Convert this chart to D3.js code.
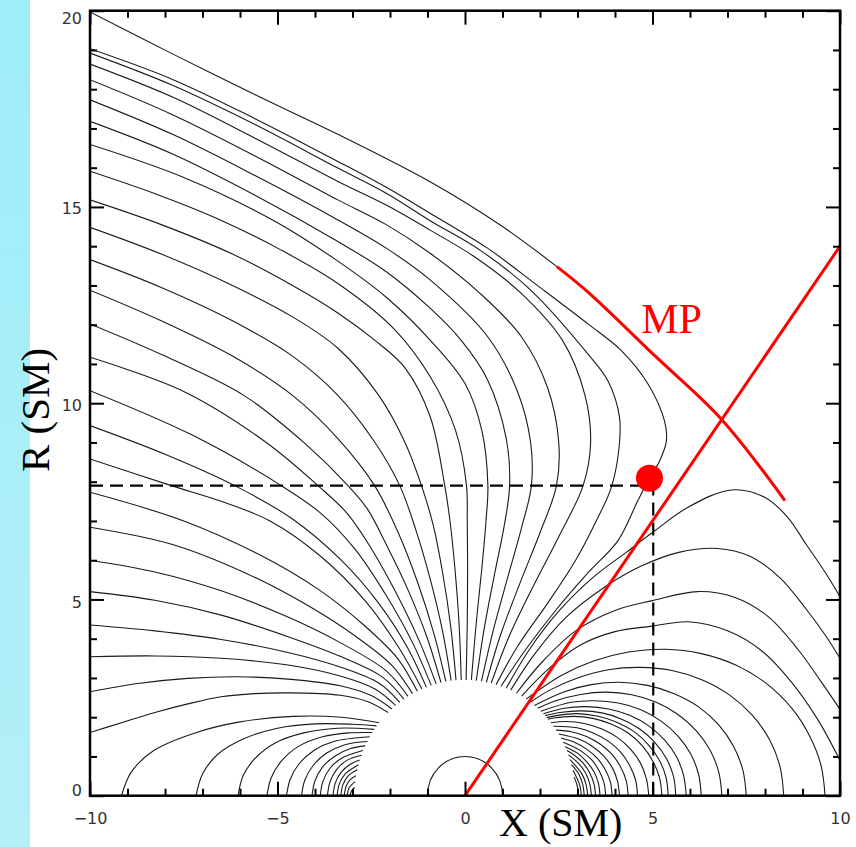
<!DOCTYPE html>
<html>
<head>
<meta charset="utf-8">
<script src="https://cdn.jsdelivr.net/npm/d3@7"></script>
<style>
  body { margin: 0; background: #fff; }
  svg { display: block; }
</style>
</head>
<body>
<div id="chart"></div>
<script>
// ---- axis ticks ----
const xMajorTicks = [-10, -5, 0, 5, 10];
const xMinorTicks = [-9, -8, -7, -6, -4, -3, -2, -1, 1, 2, 3, 4, 6, 7, 8, 9];
const yMajorTicks = [0, 5, 10, 15, 20];
const yMinorTicks = [1, 2, 3, 4, 6, 7, 8, 9, 11, 12, 13, 14, 16, 17, 18, 19];

// ---- field lines, [X, R] in SM ----
// closed lines on the night side (cross R=0 at X<0)
const nightClosedLines = [
  [[-9.16,0],[-8.9,0.6],[-8.3,1.15],[-7.2,1.6],[-6.0,1.88],[-4.6,2.02],[-3.3,2.0],[-2.29,1.86]],
  [[-7.17,0],[-7.0,0.55],[-6.6,1.05],[-5.9,1.45],[-5.0,1.72],[-4.0,1.83],[-3.0,1.82],[-2.36,1.78]],
  [[-6.05,0],[-5.92,0.5],[-5.6,0.95],[-5.05,1.35],[-4.3,1.6],[-3.4,1.72],[-2.42,1.69]],
  [[-5.28,0],[-5.17,0.45],[-4.9,0.88],[-4.45,1.25],[-3.8,1.5],[-3.1,1.6],[-2.47,1.61]],
  [[-4.76,0],[-4.66,0.42],[-4.42,0.82],[-4.02,1.16],[-3.5,1.38],[-2.54,1.5]],
  [[-4.36,0],[-4.27,0.4],[-4.05,0.77],[-3.7,1.08],[-3.2,1.3],[-2.6,1.38]],
  [[-4.08,0],[-4.0,0.38],[-3.8,0.73],[-3.45,1.02],[-3.05,1.2],[-2.66,1.27]],
  [[-3.86,0],[-3.79,0.36],[-3.6,0.7],[-3.3,0.95],[-2.72,1.15]],
  [[-3.67,0],[-3.6,0.35],[-3.43,0.66],[-3.15,0.9],[-2.76,1.03]],
  [[-3.52,0],[-3.46,0.32],[-3.3,0.6],[-3.06,0.8],[-2.81,0.91]],
  [[-3.41,0],[-3.35,0.3],[-3.2,0.55],[-2.84,0.79]],
  [[-3.31,0],[-3.26,0.27],[-3.12,0.5],[-2.87,0.66]],
  [[-3.22,0],[-3.17,0.24],[-3.06,0.41],[-2.91,0.51]],
  [[-3.14,0],[-3.09,0.2],[-2.93,0.36]],
  [[-3.07,0],[-3.02,0.13],[-2.94,0.21]]
];

// open lines stretched into the tail (leave through X=-10)
const openLines = [
  [[-2.05,2.12],[-2.6,2.4],[-3.33,2.56],[-4.72,2.62],[-5.61,2.6],[-6.5,2.52],[-7.39,2.34],[-8.27,2.12],[-9.16,1.86],[-10,1.61]],
  [[-1.95,2.21],[-2.5,2.55],[-3.33,2.8],[-4.72,2.97],[-6.05,3.03],[-7.39,2.99],[-8.72,2.86],[-10,2.65]],
  [[-1.85,2.3],[-2.4,2.72],[-3.33,3.05],[-4.72,3.33],[-6.5,3.5],[-8.27,3.56],[-10,3.54]],
  [[-1.74,2.38],[-2.3,2.87],[-3.33,3.28],[-4.72,3.65],[-6.5,3.98],[-8.27,4.2],[-10,4.35]],
  [[-1.63,2.46],[-2.2,3.02],[-3.33,3.55],[-4.72,4.05],[-6.5,4.6],[-8.27,4.98],[-10,5.2]],
  [[-1.52,2.53],[-2.1,3.18],[-3.33,3.9],[-4.72,4.55],[-6.5,5.22],[-8.27,5.7],[-10,6.0]],
  [[-1.4,2.6],[-1.95,3.32],[-2.9,4.05],[-4.2,4.85],[-5.8,5.65],[-7.8,6.4],[-10,6.84]],
  [[-1.27,2.66],[-1.8,3.5],[-2.7,4.35],[-3.9,5.25],[-5.4,6.1],[-7.5,7.0],[-10,7.73]],
  [[-1.15,2.72],[-1.75,3.75],[-2.65,4.95],[-3.85,6.1],[-5.2,7.0],[-6.5,7.5],[-7.83,7.9],[-10,8.58]],
  [[-1.03,2.76],[-1.55,3.8],[-2.3,4.9],[-3.3,6.0],[-4.6,7.05],[-6.14,7.9],[-8.0,8.7],[-10,9.43]],
  [[-0.9,2.81],[-1.4,3.9],[-2.1,5.1],[-2.95,6.3],[-3.85,7.2],[-4.9,7.9],[-7.3,9.2],[-10,10.32]],
  [[-0.77,2.85],[-1.2,3.9],[-1.8,5.1],[-2.5,6.3],[-3.15,7.2],[-3.92,7.9],[-5.3,9.0],[-7.5,10.3],[-10,11.17]],
  [[-0.64,2.88],[-1.0,4.0],[-1.5,5.2],[-2.1,6.4],[-2.6,7.3],[-3.12,7.9],[-4.3,9.0],[-5.9,10.2],[-8.0,11.2],[-10,12.02]],
  [[-0.51,2.91],[-0.82,4.1],[-1.25,5.4],[-1.78,6.7],[-2.41,7.9],[-3.39,9.1],[-4.6,10.2],[-6.2,11.2],[-8.1,12.1],[-10,12.88]],
  [[-0.37,2.93],[-0.6,4.2],[-0.95,5.6],[-1.32,6.8],[-1.74,7.9],[-2.4,9.0],[-3.39,10.2],[-4.6,11.2],[-6.2,12.1],[-8.1,12.95],[-10,13.66]],
  [[-0.24,2.94],[-0.38,4.3],[-0.6,5.7],[-0.85,6.9],[-1.16,7.9],[-1.6,9.0],[-2.3,10.2],[-3.39,11.4],[-4.6,12.2],[-6.2,13.0],[-8.1,13.8],[-10,14.48]],
  [[-0.1,2.95],[-0.16,4.4],[-0.27,5.8],[-0.4,7.0],[-0.54,7.9],[-0.93,9.66],[-1.6,10.9],[-2.4,11.6],[-3.39,12.3],[-4.6,13.0],[-6.2,13.8],[-8.1,14.55],[-10,15.18]],
  [[0.03,2.95],[0.06,4.4],[0.07,5.9],[0.06,7.0],[0.04,7.9],[-0.25,9.3],[-0.93,10.68],[-1.9,11.9],[-3.39,13.05],[-4.9,13.9],[-6.6,14.7],[-8.3,15.35],[-10,15.91]],
  [[0.17,2.95],[0.3,4.4],[0.45,5.8],[0.56,7.0],[0.61,7.9],[0.45,9.3],[0,10.5],[-0.93,11.61],[-2.1,12.7],[-3.39,13.62],[-5.0,14.6],[-7.5,15.75],[-10,16.59]],
  [[0.3,2.93],[0.52,4.3],[0.8,5.7],[1.05,6.9],[1.19,7.9],[1.1,9.1],[0.6,10.6],[-0.1,11.6],[-0.93,12.42],[-2.1,13.35],[-3.39,14.12],[-5.6,15.3],[-7.8,16.35],[-10,17.18]],
  [[0.44,2.92],[0.75,4.2],[1.15,5.6],[1.5,6.8],[1.77,7.9],[1.75,9.0],[1.4,10.3],[0.6,11.7],[-0.93,13.14],[-2.1,13.95],[-3.39,14.67],[-5.6,15.8],[-7.8,16.85],[-10,17.73]],
  [[0.57,2.89],[0.95,4.1],[1.5,5.5],[2.0,6.7],[2.44,7.9],[2.5,9.0],[2.2,10.4],[1.5,11.7],[0.4,12.8],[-0.93,13.82],[-2.1,14.55],[-3.39,15.18],[-5.6,16.3],[-7.8,17.35],[-10,18.24]],
  [[0.7,2.87],[1.15,4.0],[1.8,5.3],[2.5,6.6],[3.15,7.9],[3.35,9.0],[3.2,10.2],[2.6,11.6],[1.5,12.8],[0.3,13.7],[-0.93,14.41],[-2.1,15.05],[-3.39,15.65],[-5.6,16.75],[-7.8,17.8],[-10,18.64]],
  [[0.83,2.83],[1.4,3.8],[2.2,4.9],[2.95,6.0],[3.5,7.0],[3.9,7.85],[4.1,8.8],[4.12,9.64],[3.81,10.57],[3.28,11.25],[1.73,12.9],[0.4,13.9],[-0.93,14.65],[-2.1,15.35],[-3.39,15.99],[-5.6,17.1],[-7.8,18.1],[-10,18.92]],
  [[0.96,2.79],[1.6,3.7],[2.4,4.7],[3.3,5.7],[4.08,6.5],[4.61,7.52],[4.93,8.11],[5.19,8.53],[5.37,9.04],[5.32,9.55],[4.88,10.49],[4.17,11.34],[3.28,12.02],[2.0,12.95],[0.6,13.95],[-0.93,14.84],[-2.1,15.5],[-3.39,16.16],[-5.6,17.25],[-7.8,18.25],[-10,19.03]],
  [[-10,19.97],[-7.8,18.9],[-5.47,17.8],[-3.39,16.85],[-0.93,15.64],[1.0,14.5],[2.45,13.48]]
];

// closed lines on the day side
const dayClosedLines = [
  [[1.1,2.74],[1.7,3.7],[2.5,4.7],[3.4,5.55],[4.3,6.2],[5.06,6.75],[5.95,7.35],[7.1,7.79],[8.0,7.6],[8.6,7.1],[9.1,6.4],[9.6,5.7],[10,5.07]],
  [[1.22,2.69],[1.85,3.6],[2.7,4.55],[3.7,5.3],[4.7,5.85],[5.7,6.2],[6.73,6.3],[7.6,6.1],[8.4,5.55],[9.1,4.75],[9.6,4.1],[10,3.5]],
  [[1.37,2.61],[2.05,3.4],[2.95,4.2],[4.0,4.72],[5.0,4.97],[6.2,5.2],[7.2,5.05],[8.1,4.55],[8.9,3.7],[9.5,2.9],[10,2.2]],
  [[1.51,2.54],[2.25,3.25],[3.1,3.85],[4.0,4.18],[5.0,4.32],[5.95,4.43],[7.0,4.2],[7.9,3.7],[8.7,2.9],[9.4,1.95],[10,0.9]],
  [[1.63,2.46],[2.58,3.07],[3.43,3.43],[4.36,3.66],[5.33,3.73],[6.3,3.62],[7.22,3.33],[8.05,2.85],[8.74,2.2],[9.2,1.5],[9.5,0.75],[9.6,0]],
  [[1.74,2.38],[2.26,2.69],[3.0,3.0],[3.82,3.21],[4.67,3.27],[5.52,3.19],[6.33,2.95],[7.05,2.57],[7.66,2.05],[8.12,1.43],[8.4,0.74],[8.5,0]],
  [[1.85,2.3],[2.65,2.65],[3.37,2.83],[4.12,2.89],[4.87,2.81],[5.58,2.6],[6.22,2.27],[6.76,1.81],[7.16,1.26],[7.41,0.65],[7.5,0]],
  [[1.94,2.23],[2.42,2.42],[3.08,2.58],[3.77,2.64],[4.45,2.57],[5.1,2.38],[5.68,2.07],[6.17,1.65],[6.54,1.15],[6.77,0.59],[6.85,0]],
  [[2.02,2.15],[2.83,2.38],[3.46,2.42],[4.09,2.36],[4.69,2.19],[5.23,1.9],[5.68,1.52],[6.02,1.06],[6.23,0.54],[6.3,0]],
  [[2.09,2.09],[2.65,2.23],[3.24,2.27],[3.83,2.21],[4.39,2.05],[4.9,1.78],[5.32,1.42],[5.64,0.99],[5.83,0.51],[5.9,0]],
  [[2.14,2.04],[2.53,2.12],[3.09,2.16],[3.65,2.11],[4.18,1.95],[4.66,1.7],[5.06,1.36],[5.37,0.95],[5.56,0.49],[5.62,0]],
  [[2.18,1.99],[2.44,2.04],[2.98,2.09],[3.52,2.03],[4.03,1.88],[4.5,1.64],[4.88,1.31],[5.18,0.91],[5.36,0.47],[5.42,0]],
  [[2.21,1.95],[2.36,1.98],[2.89,2.02],[3.41,1.97],[3.91,1.82],[4.36,1.59],[4.73,1.27],[5.01,0.88],[5.19,0.45],[5.25,0]],
  [[2.29,1.86],[2.69,1.89],[3.18,1.84],[3.65,1.7],[4.07,1.48],[4.42,1.18],[4.68,0.83],[4.84,0.42],[4.9,0]],
  [[2.36,1.77],[2.99,1.73],[3.42,1.6],[3.82,1.39],[4.15,1.11],[4.39,0.77],[4.55,0.4],[4.6,0]],
  [[2.43,1.67],[2.83,1.63],[3.24,1.51],[3.61,1.31],[3.92,1.05],[4.15,0.73],[4.3,0.38],[4.35,0]],
  [[2.5,1.57],[3.07,1.43],[3.42,1.24],[3.71,1.0],[3.94,0.69],[4.07,0.36],[4.12,0]],
  [[2.56,1.47],[2.92,1.36],[3.25,1.18],[3.53,0.95],[3.74,0.66],[3.88,0.34],[3.92,0]],
  [[2.62,1.36],[3.11,1.13],[3.38,0.91],[3.58,0.63],[3.71,0.32],[3.75,0]],
  [[2.67,1.25],[2.99,1.09],[3.24,0.87],[3.44,0.61],[3.56,0.31],[3.6,0]],
  [[2.72,1.15],[2.89,1.05],[3.14,0.84],[3.32,0.59],[3.44,0.3],[3.48,0]],
  [[2.76,1.04],[3.04,0.81],[3.22,0.57],[3.33,0.29],[3.37,0]],
  [[2.8,0.92],[3.12,0.55],[3.23,0.28],[3.27,0]],
  [[2.84,0.79],[3.04,0.54],[3.14,0.28],[3.18,0]],
  [[2.88,0.65],[3.06,0.27],[3.1,0]],
  [[2.91,0.48],[2.99,0.26],[3.03,0]]
];

// red overlays
const mpLine = [[2.45,13.48],[3.28,12.83],[5.06,11.21],[6.83,9.6],[8.53,7.52]];
const sunLine = [[0,0],[10,14]];
const mpLabel = {x: 4.7, r: 11.8, text: "MP"};
const spacecraft = [4.92, 8.09];
const projection = [[-10,7.9],[5.02,7.9],[5.02,0]];
const earthRadius = 1;

// ---- layout ----
const W = 856, H = 847;
const svg = d3.select("#chart").append("svg").attr("width", W).attr("height", H);

const x = d3.scaleLinear().domain([-10, 10]).range([90, 840]);
const y = d3.scaleLinear().domain([0, 20]).range([795.7, 10.7]);

// blue strip on the left
const grad = svg.append("defs").append("linearGradient")
  .attr("id", "strip").attr("x1", 0).attr("y1", 0).attr("x2", 0).attr("y2", 1);
grad.append("stop").attr("offset", "0%").attr("stop-color", "#9eedf9");
grad.append("stop").attr("offset", "100%").attr("stop-color", "#b4eff8");
svg.append("rect").attr("x", 0).attr("y", 0).attr("width", 30).attr("height", H).attr("fill", "url(#strip)");

svg.select("defs").append("clipPath").attr("id", "plot")
  .append("rect").attr("x", x(-10)).attr("y", y(20))
  .attr("width", x(10) - x(-10)).attr("height", y(0) - y(20));

const plot = svg.append("g").attr("clip-path", "url(#plot)");

const curved = d3.line().x(d => x(d[0])).y(d => y(d[1])).curve(d3.curveCatmullRom.alpha(0.5));
const straight = d3.line().x(d => x(d[0])).y(d => y(d[1]));

// field lines
plot.selectAll("path.field")
  .data([...nightClosedLines, ...openLines, ...dayClosedLines])
  .join("path")
  .attr("class", "field")
  .attr("d", curved)
  .attr("fill", "none")
  .attr("stroke", "#1a1a1a")
  .attr("stroke-width", 1.1);

// earth
plot.append("ellipse")
  .attr("cx", x(0)).attr("cy", y(0))
  .attr("rx", x(earthRadius) - x(0)).attr("ry", y(0) - y(earthRadius))
  .attr("fill", "none").attr("stroke", "#1a1a1a").attr("stroke-width", 1.1);

// dashed projection of the spacecraft
plot.append("path")
  .attr("d", straight(projection))
  .attr("fill", "none").attr("stroke", "#000")
  .attr("stroke-width", 2.2).attr("stroke-dasharray", "13,7");

// red line from the origin
plot.append("path")
  .attr("d", straight(sunLine))
  .attr("fill", "none").attr("stroke", "#ff0000").attr("stroke-width", 3);

// magnetopause
plot.append("path")
  .attr("d", curved(mpLine))
  .attr("fill", "none").attr("stroke", "#ff0000").attr("stroke-width", 3);

plot.append("circle")
  .attr("cx", x(spacecraft[0])).attr("cy", y(spacecraft[1]))
  .attr("r", 13.5).attr("fill", "#ff0000");

svg.append("text")
  .attr("x", x(mpLabel.x)).attr("y", y(mpLabel.r))
  .attr("font-family", "Liberation Serif, Times New Roman, serif")
  .attr("font-size", 42).attr("fill", "#ff0000")
  .text(mpLabel.text);

// ---- axes ----
function styleAxis(g) {
  g.select(".domain").remove();
  g.selectAll(".tick line").attr("stroke", "#000").attr("stroke-width", 2);
  g.attr("font-family", "DejaVu Sans, sans-serif").attr("font-size", 16);
  g.selectAll("text").attr("fill", "#333");
}

const minus = d => (d < 0 ? "\u2212" + Math.abs(d) : String(d));

svg.append("g").attr("transform", `translate(0,${y(0)})`)
  .call(d3.axisBottom(x).tickValues(xMajorTicks).tickSizeInner(-14).tickSizeOuter(0).tickPadding(17).tickFormat(minus))
  .call(styleAxis);
svg.append("g").attr("transform", `translate(0,${y(0)})`)
  .call(d3.axisBottom(x).tickValues(xMinorTicks).tickSizeInner(-7).tickSizeOuter(0).tickFormat(""))
  .call(styleAxis);
svg.append("g").attr("transform", `translate(0,${y(20)})`)
  .call(d3.axisTop(x).tickValues(xMajorTicks).tickSizeInner(-14).tickSizeOuter(0).tickFormat(""))
  .call(styleAxis);
svg.append("g").attr("transform", `translate(0,${y(20)})`)
  .call(d3.axisTop(x).tickValues(xMinorTicks).tickSizeInner(-7).tickSizeOuter(0).tickFormat(""))
  .call(styleAxis);

const yLabelShift = {0: -5, 5: 3, 10: 2, 15: 1, 20: 8};
svg.append("g").attr("transform", `translate(${x(-10)},0)`)
  .call(d3.axisLeft(y).tickValues(yMajorTicks).tickSizeInner(-14).tickSizeOuter(0).tickPadding(8))
  .call(styleAxis)
  .selectAll("text").attr("transform", d => `translate(0,${yLabelShift[d]})`);
svg.append("g").attr("transform", `translate(${x(-10)},0)`)
  .call(d3.axisLeft(y).tickValues(yMinorTicks).tickSizeInner(-7).tickSizeOuter(0).tickFormat(""))
  .call(styleAxis);
svg.append("g").attr("transform", `translate(${x(10)},0)`)
  .call(d3.axisRight(y).tickValues(yMajorTicks).tickSizeInner(-14).tickSizeOuter(0).tickFormat(""))
  .call(styleAxis);
svg.append("g").attr("transform", `translate(${x(10)},0)`)
  .call(d3.axisRight(y).tickValues(yMinorTicks).tickSizeInner(-7).tickSizeOuter(0).tickFormat(""))
  .call(styleAxis);

// frame
svg.append("rect")
  .attr("x", x(-10)).attr("y", y(20))
  .attr("width", x(10) - x(-10)).attr("height", y(0) - y(20))
  .attr("fill", "none").attr("stroke", "#000").attr("stroke-width", 2.5);

// axis titles
svg.append("text")
  .attr("x", 499).attr("y", 836)
  .attr("font-family", "Liberation Serif, Times New Roman, serif")
  .attr("font-size", 40).attr("fill", "#000")
  .text("X (SM)");

svg.append("text")
  .attr("transform", "translate(49,410) rotate(-90)")
  .attr("text-anchor", "middle")
  .attr("font-family", "Liberation Serif, Times New Roman, serif")
  .attr("font-size", 41).attr("fill", "#000")
  .text("R (SM)");
</script>
</body>
</html>
